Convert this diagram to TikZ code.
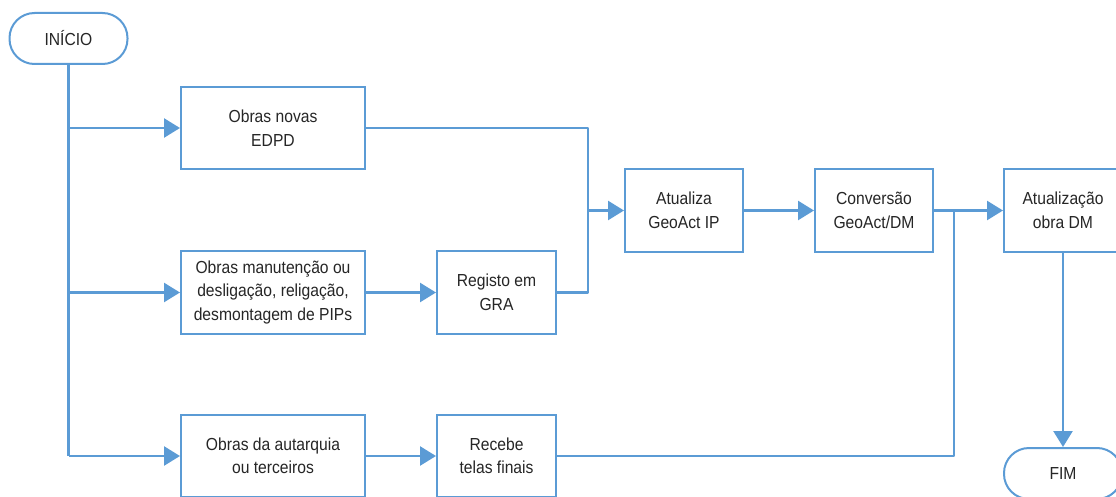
\documentclass[tikz,border=0pt]{standalone}
\usepackage{fontspec}
\setmainfont{Liberation Sans}[FakeStretch=0.9]
\usetikzlibrary{arrows.meta}
\definecolor{flowblue}{HTML}{5B9BD5}
\definecolor{txt}{HTML}{262626}
\begin{document}
\begin{tikzpicture}[x=1pt,y=-1pt,
  box/.style={draw=flowblue,line width=2pt,fill=white,align=center,text=txt,
    font=\fontsize{17.4}{23.5}\selectfont,inner sep=0pt},
  term/.style={box,rounded corners=25pt},
  conn/.style={draw=flowblue,line width=2.5pt,line join=round},
  arr/.style={conn,-{Triangle[length=16pt,width=19pt]}}]
\useasboundingbox (0,0) rectangle (1116,497);
\clip (0,0) rectangle (1116,497);
\node[term,minimum width=118pt,minimum height=51pt] (inicio) at (68.5,38.5) {INÍCIO};
\node[box,minimum width=184pt,minimum height=82pt] (edpd) at (273,128) {Obras novas\\EDPD};
\node[box,minimum width=184pt,minimum height=83pt] (manut) at (273,292.5) {Obras manutenção ou\\desligação, religação,\\desmontagem de PIPs};
\node[box,minimum width=119pt,minimum height=83pt] (gra) at (496.5,292.5) {Registo em\\GRA};
\node[box,minimum width=184pt,minimum height=82pt] (autarq) at (273,456) {Obras da autarquia\\ou terceiros};
\node[box,minimum width=119pt,minimum height=82pt] (recebe) at (496.5,456) {Recebe\\telas finais};
\node[box,minimum width=118pt,minimum height=83pt] (atual) at (684,210.5) {Atualiza\\GeoAct IP};
\node[box,minimum width=118pt,minimum height=83pt] (conv) at (874,210.5) {Conversão\\GeoAct/DM};
\node[box,minimum width=118pt,minimum height=83pt] (obradm) at (1063,210.5) {Atualização\\obra DM};
\node[term,minimum width=118pt,minimum height=51pt] (fim) at (1063,473.5) {FIM};
\coordinate (trunk) at (69,0);
\coordinate (merge) at (588,0);
\coordinate (junc) at (954,0);
% trunk
\draw[conn] (inicio.south) -- (inicio.south |- autarq.west);
\draw[arr] (trunk |- edpd.west) -- (edpd.west);
\draw[arr] (trunk |- manut.west) -- (manut.west);
\draw[arr] (trunk |- autarq.west) -- (autarq.west);
\draw[arr] (manut) -- (gra);
\draw[arr] (autarq) -- (recebe);
% merge to Atualiza
\draw[conn] (edpd.east) -- (merge |- edpd.east) -- (merge |- atual.west);
\draw[conn] (gra.east) -- (merge |- gra.east) -- (merge |- atual.west);
\draw[arr] (merge |- atual.west) -- (atual.west);
\draw[arr] (atual) -- (conv);
\draw[arr] (conv) -- (obradm);
\draw[conn] (recebe.east) -- (junc |- recebe.east) -- (junc |- conv.east);
\draw[arr] (obradm) -- (fim);
\end{tikzpicture}
\end{document}
